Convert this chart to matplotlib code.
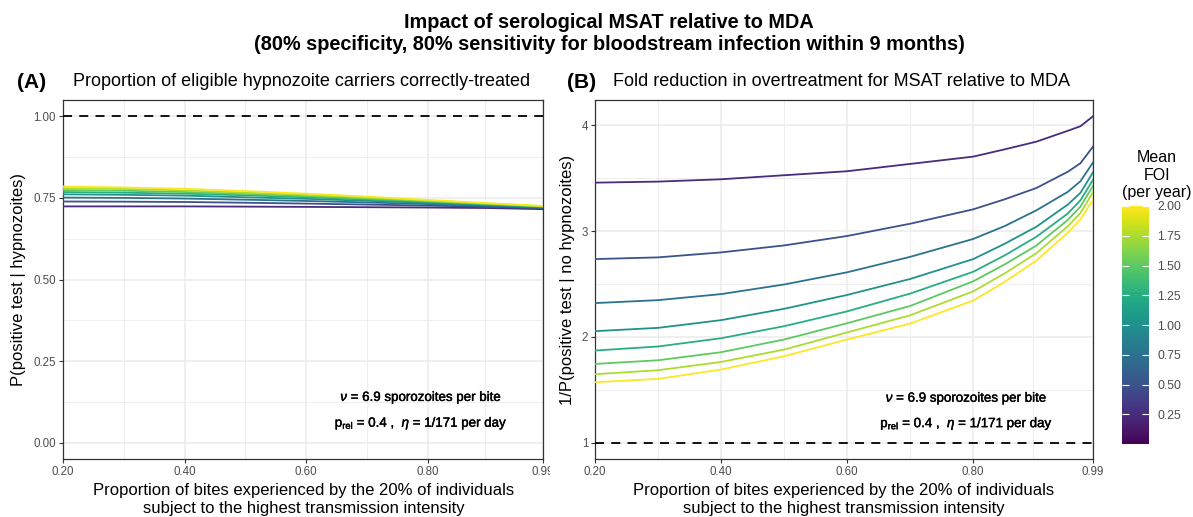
import matplotlib
matplotlib.use("Agg")
import matplotlib.pyplot as plt
import matplotlib.patheffects as pe
from matplotlib.patches import Rectangle
import numpy as np

plt.rcParams['font.family'] = ['Liberation Sans', 'DejaVu Sans']
plt.rcParams['mathtext.fontset'] = 'custom'
plt.rcParams['mathtext.rm'] = 'Liberation Sans'
plt.rcParams['mathtext.it'] = 'Liberation Sans:italic'

W, H = 1193, 517

# mean force of infection (per year) for each curve
foi = [0.25, 0.50, 0.75, 1.00, 1.25, 1.50, 1.75, 2.00]

# panel A: P(positive test | hypnozoites)
xa = [0.2, 0.3, 0.4, 0.5, 0.6, 0.7, 0.8, 0.9, 0.99]
pa = [
    [0.724, 0.724, 0.724, 0.7233, 0.7225, 0.7215, 0.7205, 0.719, 0.7155],
    [0.739, 0.7385, 0.7375, 0.7352, 0.7326, 0.7296, 0.7264, 0.7228, 0.718],
    [0.751, 0.750, 0.748, 0.7445, 0.7407, 0.7361, 0.7311, 0.7258, 0.720],
    [0.761, 0.7595, 0.757, 0.752, 0.7472, 0.7412, 0.7348, 0.7282, 0.7216],
    [0.768, 0.766, 0.763, 0.758, 0.752, 0.745, 0.7377, 0.730, 0.7228],
    [0.774, 0.772, 0.768, 0.762, 0.7557, 0.748, 0.7398, 0.7313, 0.7237],
    [0.780, 0.7775, 0.773, 0.766, 0.7594, 0.751, 0.7419, 0.7327, 0.7246],
    [0.785, 0.782, 0.778, 0.771, 0.763, 0.754, 0.744, 0.734, 0.7255],
]

# panel B: 1/P(positive test | no hypnozoites)
xb = [0.2, 0.3, 0.4, 0.5, 0.6, 0.7, 0.8, 0.85, 0.9, 0.95, 0.97, 0.99]
pb = [
    [3.457, 3.467, 3.489, 3.527, 3.565, 3.634, 3.703, 3.772, 3.844, 3.947, 3.99, 4.084],
    [2.735, 2.751, 2.798, 2.864, 2.953, 3.069, 3.205, 3.30, 3.406, 3.56, 3.64, 3.797],
    [2.319, 2.347, 2.404, 2.495, 2.61, 2.756, 2.925, 3.047, 3.195, 3.37, 3.47, 3.647],
    [2.054, 2.085, 2.158, 2.265, 2.396, 2.547, 2.735, 2.88, 3.04, 3.25, 3.36, 3.555],
    [1.871, 1.909, 1.987, 2.101, 2.241, 2.409, 2.615, 2.77, 2.945, 3.165, 3.29, 3.484],
    [1.744, 1.779, 1.855, 1.975, 2.129, 2.292, 2.525, 2.685, 2.862, 3.105, 3.23, 3.428],
    [1.647, 1.685, 1.763, 1.88, 2.042, 2.204, 2.43, 2.60, 2.79, 3.045, 3.17, 3.366],
    [1.571, 1.603, 1.691, 1.817, 1.975, 2.126, 2.343, 2.52, 2.72, 2.984, 3.11, 3.297],
]

xticks = [0.2, 0.4, 0.6, 0.8, 0.99]
xticklabels = ["0.20", "0.40", "0.60", "0.80", "0.99"]
ya_ticks = [0.0, 0.25, 0.5, 0.75, 1.0]
ya_labels = ["0.00", "0.25", "0.50", "0.75", "1.00"]
yb_ticks = [1, 2, 3, 4]
cb_ticks = [0.25, 0.5, 0.75, 1.0, 1.25, 1.5, 1.75, 2.0]

cmap = plt.get_cmap('viridis')
norm = matplotlib.colors.Normalize(vmin=0.0, vmax=2.0)


def px_axes(fig, left, top, right, bottom):
    return fig.add_axes([left / W, (H - bottom) / H, (right - left) / W, (bottom - top) / H])


def style_axes(ax, yticks, ylabels, yminor):
    ax.set_xlim(0.2, 0.99)
    ax.set_xticks(xticks)
    ax.set_xticklabels(xticklabels)
    ax.set_xticks([0.3, 0.5, 0.7, 0.895], minor=True)
    ax.set_yticks(yticks)
    ax.set_yticklabels(ylabels)
    ax.set_yticks(yminor, minor=True)
    ax.grid(True, which='major', color='#ebebeb', lw=1.1, zorder=0)
    ax.grid(True, which='minor', color='#ebebeb', lw=0.55, zorder=0)
    ax.set_axisbelow(True)
    for s in ax.spines.values():
        s.set_color('#333333')
        s.set_linewidth(0.9)
    ax.tick_params(which='major', length=3, width=0.8, color='#333333',
                   labelsize=8.3, labelcolor='#4d4d4d', pad=2)
    ax.tick_params(which='minor', length=0)


fig = plt.figure(figsize=(W / 100, H / 100), dpi=100)

# panel A
axa = px_axes(fig, 63, 100, 543, 459)
for i, f in enumerate(foi):
    axa.plot(xa, pa[i], color=cmap(norm(f)), lw=1.3, zorder=3)
axa.axhline(1.0, color='black', lw=1.3, ls=(0, (5, 4)), zorder=4)
axa.set_ylim(-0.05, 1.05)
style_axes(axa, ya_ticks, ya_labels, [0.125, 0.375, 0.625, 0.875])
axa.set_ylabel("P(positive test | hypnozoites)", fontsize=12, labelpad=5)

# panel B
axb = px_axes(fig, 595, 100, 1093, 459)
for i, f in enumerate(foi):
    axb.plot(xb, pb[i], color=cmap(norm(f)), lw=1.3, zorder=3)
axb.axhline(1.0, color='black', lw=1.3, ls=(0, (5, 4)), zorder=4)
axb.set_ylim(0.846, 4.238)
style_axes(axb, yb_ticks, [str(t) for t in yb_ticks], [1.5, 2.5, 3.5])
axb.set_ylabel("1/P(positive test | no hypnozoites)", fontsize=12, labelpad=5)

# annotations
stroke = [pe.withStroke(linewidth=0.3, foreground='black')]
for ax, ys in ((axa, (0.137, 0.058)), (axb, (1.415, 1.175))):
    ax.text(0.79, ys[0], r"$\mathit{\nu}$ = 6.9 sporozoites per bite", ha='center', va='center',
            fontsize=9.6, color='black', path_effects=stroke, zorder=5)
    ax.text(0.79, ys[1], r"$\mathregular{p_{rel}}$ = 0.4 ,  $\mathit{\eta}$ = 1/171 per day",
            ha='center', va='center', fontsize=9.6, color='black', path_effects=stroke, zorder=5)

# x labels
for cx in (304, 844):
    fig.text(cx / W, 1 - 491 / H, "Proportion of bites experienced by the 20% of individuals",
             ha='center', va='center', fontsize=12)
    fig.text(cx / W, 1 - 508 / H, "subject to the highest transmission intensity",
             ha='center', va='center', fontsize=12)

# hide the clipped part of the last tick label in panel A
fig.add_artist(Rectangle((550 / W, 1 - 478 / H), 27 / W, 18 / H, transform=fig.transFigure,
                         facecolor='white', edgecolor='none', zorder=10))

# titles
fig.text(609 / W, 1 - 23 / H, "Impact of serological MSAT relative to MDA",
         ha='center', va='center', fontsize=14.3, fontweight='bold')
fig.text(609 / W, 1 - 45 / H, "(80% specificity, 80% sensitivity for bloodstream infection within 9 months)",
         ha='center', va='center', fontsize=14.3, fontweight='bold')
fig.text(17 / W, 1 - 82 / H, "(A)", ha='left', va='center', fontsize=15, fontweight='bold')
fig.text(73 / W, 1 - 82 / H, "Proportion of eligible hypnozoite carriers correctly-treated",
         ha='left', va='center', fontsize=13)
fig.text(567 / W, 1 - 82 / H, "(B)", ha='left', va='center', fontsize=15, fontweight='bold')
fig.text(613 / W, 1 - 82 / H, "Fold reduction in overtreatment for MSAT relative to MDA",
         ha='left', va='center', fontsize=13)

# colour bar
cax = px_axes(fig, 1122, 206, 1149, 444)
sm = matplotlib.cm.ScalarMappable(norm=norm, cmap=cmap)
cb = fig.colorbar(sm, cax=cax)
cb.outline.set_visible(False)
cb.set_ticks(cb_ticks)
cb.set_ticklabels(["%.2f" % t for t in cb_ticks])
cax.tick_params(direction='in', length=5, width=0.8, color='white', left=True, right=True,
                labelsize=8.8, labelcolor='#4d4d4d', pad=6)
for t, yy in (("Mean", 157), ("FOI", 175), ("(per year)", 193)):
    fig.text(1157 / W, 1 - yy / H, t, ha='center', va='center', fontsize=11.5)

fig.savefig("out.png", dpi=100, facecolor='white')
